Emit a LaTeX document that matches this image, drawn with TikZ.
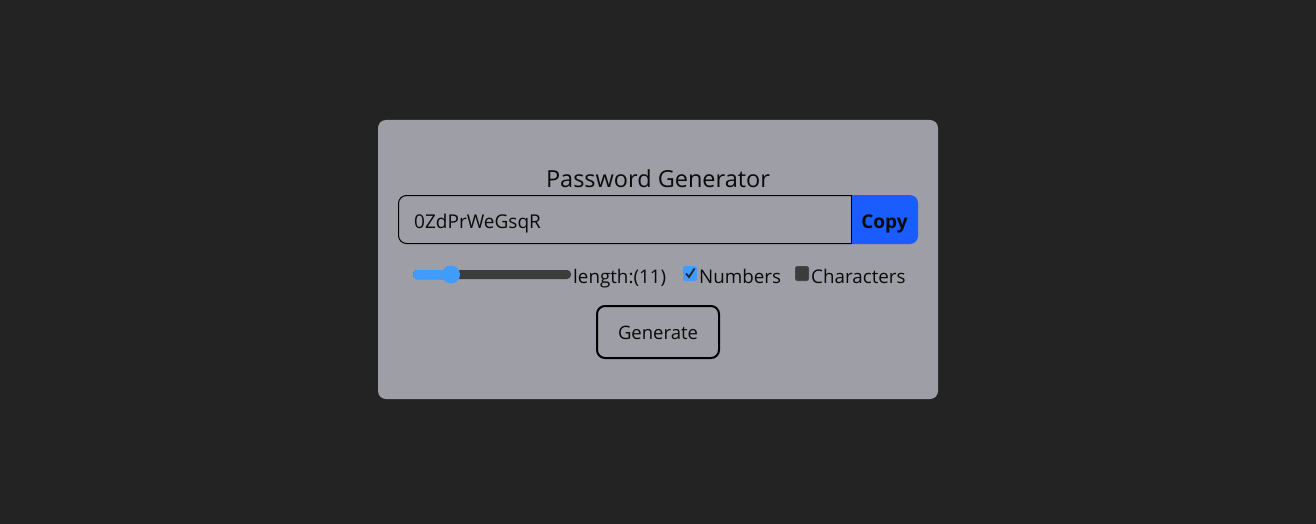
\documentclass[tikz,border=0pt]{standalone}
\usepackage{fontspec}
\setmainfont{Open Sans}
\definecolor{bgc}{RGB}{35,35,35}
\definecolor{cardc}{RGB}{158,158,166}
\definecolor{copyc}{RGB}{26,92,255}
\definecolor{slblue}{RGB}{64,156,255}
\definecolor{sldark}{RGB}{60,60,60}
\definecolor{txt}{RGB}{10,10,10}
\begin{document}
\begin{tikzpicture}[x=1pt,y=-1pt,
  lbl/.style={inner sep=0pt,text=txt,anchor=base west},
  rowfont/.style={font=\fontsize{18.8}{22}\selectfont},
]
\useasboundingbox (0,0) rectangle (1316,524);
\fill[bgc] (0,0) rectangle (1316,524);
% card
\fill[cardc,rounded corners=8pt] (378,120) rectangle (938,399);
% title
\node[inner sep=0pt,text=txt,anchor=base,font=\fontsize{23.5}{27}\selectfont] (title) at (658,187.5) {Password Generator};
% copy button (blue, right corners rounded)
\begin{scope}
\clip (851,190) rectangle (930,250);
\fill[copyc,rounded corners=8pt] (398,195) rectangle (918,244);
\end{scope}
% input border (left corners rounded)
\begin{scope}
\clip (390,190) rectangle (851,250);
\draw[black,line width=1pt,rounded corners=8pt] (398.5,195.5) rectangle (918,243.5);
\end{scope}
\draw[black,line width=1pt] (851,195) -- (851,244);
\node[lbl,font=\fontsize{19}{22}\selectfont] (pw) at (414,228) {0ZdPrWeGsqR};
\node[inner sep=0pt,text=txt,anchor=base,font=\bfseries\fontsize{19}{22}\selectfont] (copy) at (884.5,228) {Copy};
% slider
\fill[sldark,rounded corners=4pt] (413,270) rectangle (571,279);
\fill[slblue,rounded corners=4pt] (413,270) rectangle (452,279);
\fill[slblue] (451,274.5) circle[radius=9];
\node[lbl,rowfont] (len) at (573,283) {length:(11)};
% numbers checkbox
\fill[slblue,rounded corners=2pt] (683,266) rectangle (697,281);
\draw[black!85,line width=1.8pt] (686,273.5) -- (689,277) -- (694.5,268.5);
\node[lbl,rowfont] (num) at (699,283) {Numbers};
% characters checkbox
\draw[fill=sldark,draw=black!55!cardc,line width=1pt,rounded corners=2pt] (795.5,266.5) rectangle (808.5,280.5);
\node[lbl,rowfont] (chr) at (811,283) {Characters};
% generate
\draw[black,line width=2pt,rounded corners=8pt] (597,306) rectangle (719,358);
\node[inner sep=0pt,text=txt,anchor=base,font=\fontsize{18.5}{22}\selectfont] (gen) at (658,339.5) {Generate};
\end{tikzpicture}
\end{document}
